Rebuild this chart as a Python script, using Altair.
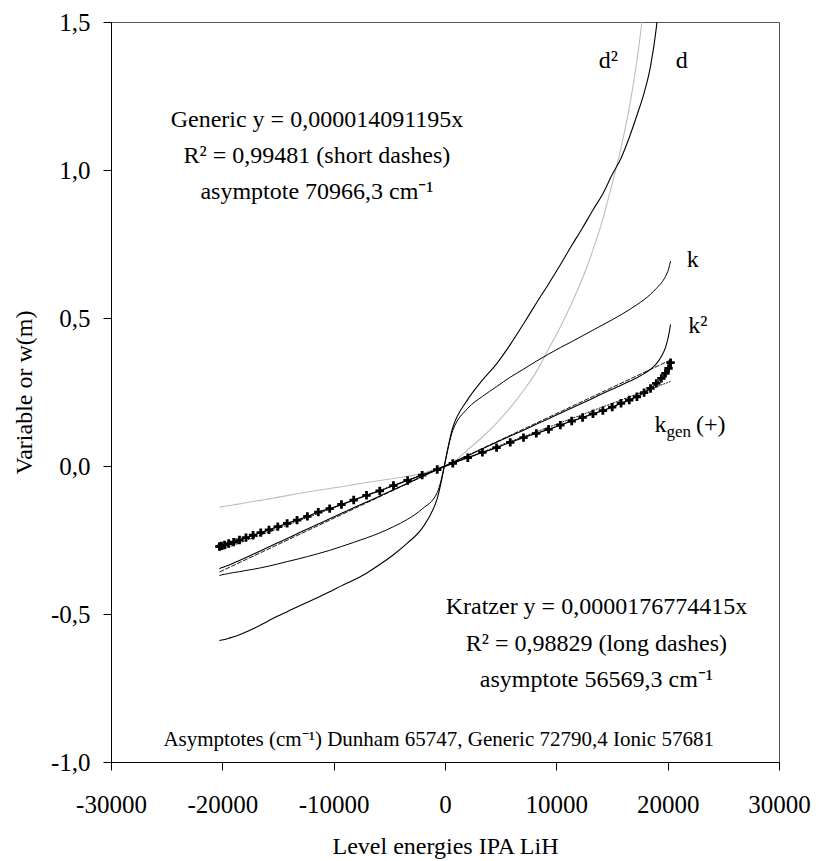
import altair as alt
import pandas as pd

# Level energies (cm-1), lower half and upper half of the well
energy_neg = [-20260, -20080, -19800, -19430, -18980, -18460, -17880, -17240,
              -16550, -15810, -15020, -14180, -13290, -12360, -11380, -10360,
              -9300, -8200, -7050, -5860, -4630, -3360, -2050, -700]
energy_pos = [700, 2050, 3360, 4630, 5860, 7050, 8200, 9300, 10360, 11380,
              12360, 13290, 14180, 15020, 15810, 16550, 17240, 17880, 18460,
              18980, 19430, 19800, 20080, 20260]

# w(m) for each function, same order as the energies above
d_neg = [-0.590, -0.588, -0.586, -0.582, -0.577, -0.570, -0.561, -0.550,
         -0.537, -0.522, -0.507, -0.492, -0.476, -0.460, -0.443, -0.425,
         -0.405, -0.385, -0.362, -0.333, -0.300, -0.260, -0.210, -0.110]
d_pos = [0.130, 0.225, 0.290, 0.345, 0.410, 0.480, 0.550, 0.615, 0.680,
         0.745, 0.805, 0.865, 0.920, 0.985, 1.040, 1.110, 1.185, 1.260,
         1.350, 1.480, 1.660]

d2_neg = [-0.139, -0.138, -0.136, -0.134, -0.131, -0.128, -0.124, -0.120,
          -0.116, -0.111, -0.106, -0.100, -0.094, -0.088, -0.082, -0.076,
          -0.070, -0.063, -0.056, -0.049, -0.042, -0.035, -0.025, -0.008]
d2_pos = [0.012, 0.055, 0.098, 0.145, 0.197, 0.255, 0.318, 0.395, 0.470,
          0.550, 0.635, 0.730, 0.835, 0.955, 1.075, 1.210, 1.370, 1.560,
          1.760]

k_neg = [-0.370, -0.368, -0.366, -0.363, -0.360, -0.357, -0.353, -0.349,
         -0.344, -0.338, -0.331, -0.323, -0.315, -0.306, -0.296, -0.285,
         -0.272, -0.258, -0.243, -0.226, -0.205, -0.180, -0.145, -0.090]
k_pos = [0.120, 0.195, 0.235, 0.268, 0.300, 0.327, 0.354, 0.378, 0.400,
         0.420, 0.440, 0.459, 0.477, 0.494, 0.511, 0.528, 0.545, 0.562,
         0.580, 0.600, 0.618, 0.640, 0.665, 0.692]

k2_neg = [-0.347, -0.344, -0.340, -0.335, -0.328, -0.319, -0.309, -0.298,
          -0.286, -0.273, -0.259, -0.245, -0.229, -0.213, -0.196, -0.178,
          -0.160, -0.141, -0.122, -0.101, -0.080, -0.058, -0.035, -0.012]
k2_pos = [0.012, 0.035, 0.058, 0.080, 0.101, 0.121, 0.141, 0.160, 0.178,
          0.196, 0.213, 0.229, 0.245, 0.259, 0.273, 0.286, 0.298, 0.312,
          0.327, 0.345, 0.370, 0.400, 0.440, 0.478]

kgen_neg = [-0.272, -0.270, -0.267, -0.262, -0.257, -0.250, -0.242, -0.234,
            -0.225, -0.216, -0.205, -0.194, -0.183, -0.170, -0.156, -0.144,
            -0.130, -0.115, -0.099, -0.084, -0.066, -0.049, -0.031, -0.012]
kgen_pos = [0.009, 0.028, 0.046, 0.062, 0.080, 0.096, 0.110, 0.124, 0.138,
            0.152, 0.164, 0.176, 0.187, 0.199, 0.212, 0.223, 0.234, 0.248,
            0.262, 0.279, 0.296, 0.313, 0.330, 0.349]

# Linear fits through the origin
generic_slope = 0.000014091195
kratzer_slope = 0.0000176774415

x_ticks = [-30000, -20000, -10000, 0, 10000, 20000, 30000]
y_ticks = [-1.0, -0.5, 0.0, 0.5, 1.0, 1.5]


def series(name, xs, ys):
    return [{"energy": e, "w": v, "curve": name} for e, v in zip(xs, ys)]


energy_all = energy_neg + energy_pos
rows = []
rows += series("d", energy_all, d_neg + d_pos)
rows += series("d2", energy_all, d2_neg + d2_pos)
rows += series("k", energy_all, k_neg + k_pos)
rows += series("k2", energy_all, k2_neg + k2_pos)
rows += series("kgen", energy_all, kgen_neg + kgen_pos)
ends = [energy_neg[0], energy_pos[-1]]
rows += series("generic", ends, [generic_slope * e for e in ends])
rows += series("kratzer", ends, [kratzer_slope * e for e in ends])
curves = pd.DataFrame(rows)

FONT = "'Liberation Serif', 'Times New Roman', serif"

x_enc = alt.X(
    "energy:Q",
    scale=alt.Scale(domain=[-30000, 30000], nice=False, zero=False),
    axis=alt.Axis(
        values=x_ticks, title="Level energies IPA LiH", grid=False,
        tickSize=8, labelPadding=42, labelBaseline="alphabetic",
        labelExpr="(datum.value < 0 ? '-' : '') + format(abs(datum.value), 'd')",
        titleY=91, titleBaseline="alphabetic", labelFlush=False,
    ),
)
y_enc = alt.Y(
    "w:Q",
    scale=alt.Scale(domain=[-1.0, 1.5], nice=False, zero=False),
    axis=alt.Axis(
        values=y_ticks, title="Variable or w(m)", grid=False,
        tickSize=8, labelPadding=13, labelBaseline="middle",
        labelExpr="(datum.value < 0 ? '-' : '') + replace(format(abs(datum.value), '.1f'), '.', ',')",
        titleX=-80, titleY=370, titleAngle=270, titleBaseline="alphabetic",
        labelFlush=False,
    ),
)

base = alt.Chart(curves)


def curve_line(name, color="black", width=1.0, dash=None):
    kw = dict(color=color, strokeWidth=width, clip=True, interpolate="monotone")
    if dash:
        kw["strokeDash"] = dash
    return base.transform_filter(alt.datum.curve == name).mark_line(**kw).encode(x=x_enc, y=y_enc)


lines = [
    curve_line("d2", color="#bdbdbd", width=1.1),
    curve_line("d", width=1.1),
    curve_line("k", width=1.0),
    curve_line("k2", width=1.1),
    curve_line("generic", width=0.9, dash=[2, 1]),
    curve_line("kratzer", width=0.9, dash=[5, 1.5]),
    curve_line("kgen", width=1.3),
]

kgen_marks = base.transform_filter(alt.datum.curve == "kgen").mark_point(
    shape="M-1,0L1,0M0,-1L0,1", filled=False, stroke="black",
    strokeWidth=2.8, size=70, opacity=1,
).encode(x=x_enc, y=y_enc)

# Text placed in data units
notes = pd.DataFrame([
    {"energy": -11500, "w": 1.145, "text": "Generic y = 0,000014091195x", "size": 24, "align": "center"},
    {"energy": -11500, "w": 1.024, "text": "R\u00b2 = 0,99481 (short dashes)", "size": 24, "align": "center"},
    {"energy": -11500, "w": 0.902, "text": "asymptote 70966,3 cm\u207b\u00b9", "size": 24, "align": "center"},
    {"energy": 13600, "w": -0.500, "text": "Kratzer y = 0,0000176774415x", "size": 24, "align": "center"},
    {"energy": 13600, "w": -0.625, "text": "R\u00b2 = 0,98829 (long dashes)", "size": 24, "align": "center"},
    {"energy": 13600, "w": -0.747, "text": "asymptote 56569,3 cm\u207b\u00b9", "size": 24, "align": "center"},
    {"energy": -570, "w": -0.946, "text": "Asymptotes (cm\u207b\u00b9) Dunham 65747, Generic 72790,4 Ionic 57681", "size": 21, "align": "center"},
    {"energy": 14680, "w": 1.345, "text": "d\u00b2", "size": 24, "align": "center"},
    {"energy": 21260, "w": 1.345, "text": "d", "size": 24, "align": "center"},
    {"energy": 22250, "w": 0.672, "text": "k", "size": 24, "align": "center"},
    {"energy": 22700, "w": 0.449, "text": "k\u00b2", "size": 24, "align": "center"},
    {"energy": 18820, "w": 0.115, "text": "k", "size": 24, "align": "left"},
    {"energy": 19900, "w": 0.098, "text": "gen", "size": 17, "align": "left"},
    {"energy": 22550, "w": 0.115, "text": "(+)", "size": 24, "align": "left"},
])


def note_layer(align):
    return alt.Chart(notes).transform_filter(alt.datum.align == align).mark_text(
        font=FONT, color="black", align=align, baseline="alphabetic",
    ).encode(
        x=x_enc, y=y_enc, text="text:N",
        size=alt.Size("size:Q", scale=None, legend=None),
    )


chart = alt.layer(*lines, kgen_marks, note_layer("center"), note_layer("left")).properties(
    width=668, height=740,
    padding={"left": 111, "top": 22, "right": 40, "bottom": 99},
    autosize=alt.AutoSizeParams(type="none"),
    background="white",
).configure_view(
    stroke="#555555", strokeWidth=1,
).configure_axis(
    domainColor="black", domainWidth=1, tickColor="black", tickWidth=1,
    labelFont=FONT, labelFontSize=25, labelColor="black",
    titleFont=FONT, titleFontSize=24, titleColor="black", titleFontWeight="normal",
)

chart.save("out.html", embed_options={"renderer": "svg", "actions": False})
